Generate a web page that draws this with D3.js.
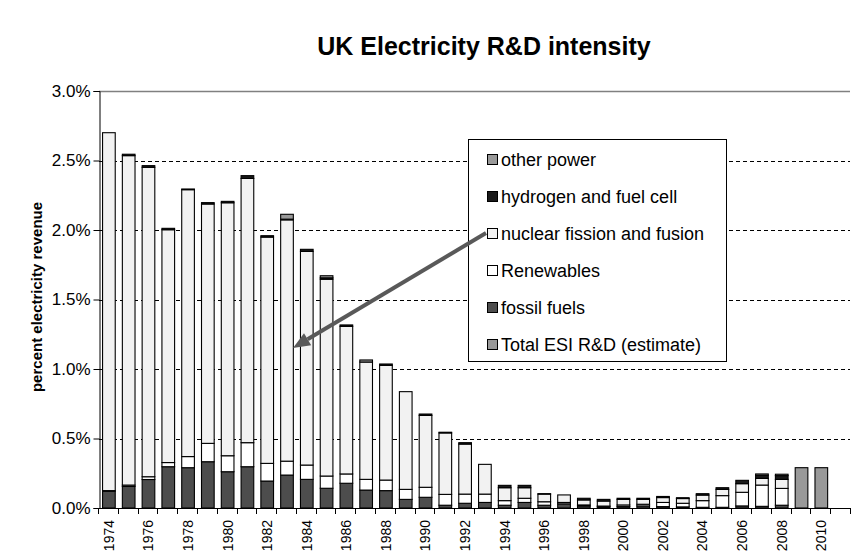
<!DOCTYPE html>
<html>
<head>
<meta charset="utf-8">
<script src="https://cdn.jsdelivr.net/npm/d3@7"></script>
<style>
  html, body { margin: 0; padding: 0; background: #fff; }
  svg { display: block; font-family: "Liberation Sans", Arial, sans-serif; }
</style>
</head>
<body>
<svg id="chart" width="854" height="555"></svg>
<script>
// Financial years shown on the category axis (2011 slot left empty)
const years = [1974, 1975, 1976, 1977, 1978, 1979, 1980, 1981, 1982, 1983,
               1984, 1985, 1986, 1987, 1988, 1989, 1990, 1991, 1992, 1993,
               1994, 1995, 1996, 1997, 1998, 1999, 2000, 2001, 2002, 2003,
               2004, 2005, 2006, 2007, 2008, 2009, 2010, 2011];

// R&D spend as percent of electricity revenue, by technology
const fossilFuels = [0.12, 0.155, 0.205, 0.297, 0.29, 0.333, 0.261, 0.297, 0.194, 0.237,
                     0.206, 0.142, 0.178, 0.129, 0.125, 0.062, 0.077, 0.02, 0.034, 0.04,
                     0.02, 0.04, 0.02, 0.03, 0.015, 0.008, 0.01, 0.015, 0.01, 0.008,
                     0.005, 0.005, 0.015, 0.012, 0.02, 0, 0, 0];
const renewables = [0.005, 0.01, 0.02, 0.03, 0.08, 0.132, 0.115, 0.173, 0.127, 0.1,
                    0.103, 0.088, 0.067, 0.077, 0.076, 0.072, 0.072, 0.078, 0.066, 0.06,
                    0.033, 0.03, 0.025, 0.01, 0.007, 0.006, 0.012, 0.012, 0.03, 0.026,
                    0.048, 0.084, 0.098, 0.153, 0.121, 0, 0, 0];
const nuclear = [2.575, 2.37, 2.226, 1.675, 1.92, 1.722, 1.82, 1.901, 1.628, 1.736,
                 1.537, 1.416, 1.062, 0.844, 0.825, 0.703, 0.517, 0.442, 0.36, 0.214,
                 0.093, 0.076, 0.055, 0.054, 0.036, 0.036, 0.04, 0.035, 0.035, 0.034,
                 0.04, 0.045, 0.062, 0.048, 0.065, 0, 0, 0];
const hydrogen = [0, 0.01, 0.012, 0.01, 0.005, 0.01, 0.01, 0.02, 0.01, 0.005,
                  0.015, 0.01, 0.01, 0, 0.01, 0, 0.01, 0.005, 0.01, 0,
                  0.017, 0.017, 0.003, 0, 0.012, 0.012, 0.008, 0.008, 0.008, 0.006,
                  0.01, 0.012, 0.024, 0.022, 0.027, 0, 0, 0];
const otherPower = [0, 0, 0, 0, 0, 0, 0, 0, 0, 0.035,
                    0, 0.015, 0, 0.015, 0, 0, 0, 0, 0, 0,
                    0, 0, 0, 0, 0, 0, 0, 0, 0, 0,
                    0, 0, 0, 0.01, 0.01, 0, 0, 0];
const totalEstimate = [0, 0, 0, 0, 0, 0, 0, 0, 0, 0,
                       0, 0, 0, 0, 0, 0, 0, 0, 0, 0,
                       0, 0, 0, 0, 0, 0, 0, 0, 0, 0,
                       0, 0, 0, 0, 0, 0.29, 0.29, 0];

const yTicks = [0, 0.5, 1.0, 1.5, 2.0, 2.5, 3.0];
const yearLabels = [1974, 1976, 1978, 1980, 1982, 1984, 1986, 1988, 1990, 1992,
                    1994, 1996, 1998, 2000, 2002, 2004, 2006, 2008, 2010];

// Series in stacking order (bottom to top) with their fills
const seriesKeys = ["fossil", "renew", "nuclear", "hydrogen", "other", "estimate"];
const seriesFill = {
  fossil: "#4d4d4d", renew: "#ffffff", nuclear: "#f2f2f2",
  hydrogen: "#1a1a1a", other: "#999999", estimate: "#999999"
};
const legendItems = [
  { label: "other power", key: "other" },
  { label: "hydrogen and fuel cell", key: "hydrogen" },
  { label: "nuclear fission and fusion", key: "nuclear" },
  { label: "Renewables", key: "renew" },
  { label: "fossil fuels", key: "fossil" },
  { label: "Total ESI R&D (estimate)", key: "estimate" }
];

const table = years.map((yr, i) => ({
  year: yr,
  fossil: fossilFuels[i], renew: renewables[i], nuclear: nuclear[i],
  hydrogen: hydrogen[i], other: otherPower[i], estimate: totalEstimate[i]
}));

const svg = d3.select("#chart");
const plot = { left: 99, right: 851, top: 91, bottom: 508 };

const x = d3.scaleBand()
  .domain(years)
  .range([plot.left, plot.right])
  .paddingInner(0.36)
  .paddingOuter(0.18);

const y = d3.scaleLinear().domain([0, 3]).range([plot.bottom, plot.top]);

// Title
svg.append("text")
  .attr("x", 484)
  .attr("y", 55)
  .attr("text-anchor", "middle")
  .attr("font-size", 25)
  .attr("font-weight", "bold")
  .text("UK Electricity R&D intensity");

// Horizontal gridlines
svg.append("g")
  .selectAll("line")
  .data(yTicks.filter(t => t > 0 && t < 3))
  .join("line")
  .attr("x1", plot.left).attr("x2", 850)
  .attr("y1", d => Math.round(y(d)) + 0.5).attr("y2", d => Math.round(y(d)) + 0.5)
  .attr("stroke", "#000")
  .attr("stroke-dasharray", "4,3");

// Top border of plot area
svg.append("line")
  .attr("x1", plot.left).attr("x2", 850)
  .attr("y1", Math.round(y(3)) + 0.5).attr("y2", Math.round(y(3)) + 0.5)
  .attr("stroke", "#808080")
  .attr("stroke-width", 1.5);

// Stacked bars
const stack = d3.stack().keys(seriesKeys);
const layers = stack(table);

svg.append("g")
  .selectAll("g")
  .data(layers)
  .join("g")
  .attr("fill", d => seriesFill[d.key])
  .selectAll("rect")
  .data(d => d.filter(p => p[1] - p[0] > 0))
  .join("rect")
  .attr("x", p => x(p.data.year))
  .attr("width", x.bandwidth())
  .attr("y", p => y(p[1]))
  .attr("height", p => y(p[0]) - y(p[1]))
  .attr("stroke", "#000")
  .attr("stroke-width", 1.1);

// Y axis
const yAxis = svg.append("g")
  .attr("transform", `translate(${plot.left + 0.5},0)`)
  .call(d3.axisLeft(y).tickValues(yTicks).tickSize(6).tickPadding(3)
    .tickFormat(d => d.toFixed(1) + "%"));
yAxis.select(".domain").attr("stroke", "#000");
yAxis.selectAll("text").attr("font-size", 17).attr("font-family", "Liberation Sans, Arial, sans-serif").attr("fill", "#000");

// X axis baseline and ticks at category boundaries
svg.append("line")
  .attr("x1", plot.left).attr("x2", 850)
  .attr("y1", plot.bottom + 0.5).attr("y2", plot.bottom + 0.5)
  .attr("stroke", "#000");

const boundaries = years.map(yr => x(yr) - x.step() * x.paddingOuter());
boundaries.push(plot.right);
svg.append("g")
  .selectAll("line")
  .data(boundaries)
  .join("line")
  .attr("x1", d => Math.round(d) - 0.5).attr("x2", d => Math.round(d) - 0.5)
  .attr("y1", plot.bottom).attr("y2", plot.bottom + 6)
  .attr("stroke", "#000");

// Year labels, rotated
svg.append("g")
  .selectAll("text")
  .data(yearLabels)
  .join("text")
  .attr("transform", d => `translate(${x(d) + x.bandwidth() / 2},520) rotate(-90)`)
  .attr("text-anchor", "end")
  .attr("dy", "0.35em")
  .attr("font-size", 14)
  .text(d => d);

// Y axis title
svg.append("text")
  .attr("transform", "translate(37,297) rotate(-90)")
  .attr("text-anchor", "middle")
  .attr("dy", "0.35em")
  .attr("font-size", 15)
  .attr("font-weight", "bold")
  .text("percent electricity revenue");

// Legend
const legend = svg.append("g");
legend.append("rect")
  .attr("x", 468.5).attr("y", 139.5)
  .attr("width", 258).attr("height", 222)
  .attr("fill", "#fff")
  .attr("stroke", "#000");

const rowY = d3.scalePoint().domain(legendItems.map(d => d.label)).range([160, 345]);
const rows = legend.selectAll("g.item")
  .data(legendItems)
  .join("g")
  .attr("class", "item")
  .attr("transform", d => `translate(0,${rowY(d.label)})`);
rows.append("rect")
  .attr("x", 487.5).attr("y", -5.5)
  .attr("width", 10).attr("height", 10)
  .attr("fill", d => seriesFill[d.key])
  .attr("stroke", "#000");
rows.append("text")
  .attr("x", 501).attr("dy", "0.35em")
  .attr("font-size", 18)
  .text(d => d.label);

// Pointer from the nuclear legend entry to the bars
const arrowFrom = [486, 233];
const arrowTo = [293, 348];
const ang = Math.atan2(arrowTo[1] - arrowFrom[1], arrowTo[0] - arrowFrom[0]);
const headLen = 17, headHalf = 7;
const base = [arrowTo[0] - headLen * Math.cos(ang), arrowTo[1] - headLen * Math.sin(ang)];
svg.append("line")
  .attr("x1", arrowFrom[0]).attr("y1", arrowFrom[1])
  .attr("x2", base[0]).attr("y2", base[1])
  .attr("stroke", "#595959").attr("stroke-width", 4);
svg.append("path")
  .attr("d", d3.line()([
    arrowTo,
    [base[0] + headHalf * Math.sin(ang), base[1] - headHalf * Math.cos(ang)],
    [base[0] - headHalf * Math.sin(ang), base[1] + headHalf * Math.cos(ang)]
  ]) + "Z")
  .attr("fill", "#595959");
</script>
</body>
</html>
